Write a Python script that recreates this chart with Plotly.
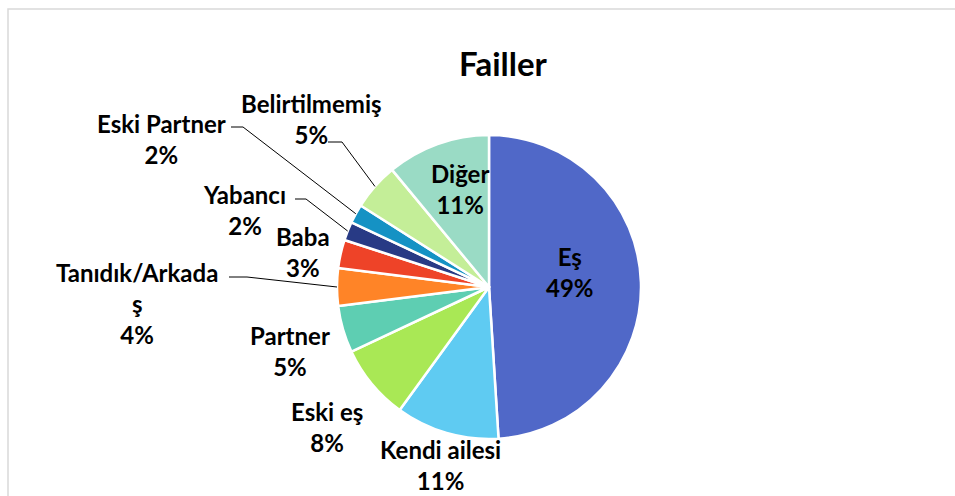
import math

import plotly.graph_objects as go

# data
labels = [
    "Eş",
    "Kendi ailesi",
    "Eski eş",
    "Partner",
    "Tanıdık/Arkadaş",
    "Baba",
    "Yabancı",
    "Eski Partner",
    "Belirtilmemiş",
    "Diğer",
]
values = [49, 11, 8, 5, 4, 3, 2, 2, 5, 11]
colors = [
    "#5068C8",
    "#5FCBF2",
    "#A9E855",
    "#5ECEB2",
    "#FF8427",
    "#EE4328",
    "#283A85",
    "#1592C4",
    "#C4EE98",
    "#9ADBC5",
]
title = "Failler"

# layout (pixels in a 955x496 page)
W, H = 955, 496
CX, CY, R = 489, 287, 152
FONT = "Lato, 'Open Sans', sans-serif"

# label centres, and where a leader line leaves the label
label_pos = {
    "Eş": (570, 272),
    "Kendi ailesi": (440, 465),
    "Eski eş": (327, 427),
    "Partner": (290, 351),
    "Tanıdık/Arkadaş": (137, 303),
    "Baba": (303, 252),
    "Yabancı": (244, 210),
    "Eski Partner": (161, 139),
    "Belirtilmemiş": (311, 119),
    "Diğer": (460, 189),
}
leader_start = {
    "Tanıdık/Arkadaş": [(229, 277), (247, 277)],
    "Yabancı": [(295, 199), (306, 199)],
    "Eski Partner": [(231, 127), (243, 127)],
    "Belirtilmemiş": [(328, 142), (342, 142)],
}
wrapped = {"Tanıdık/Arkadaş": "Tanıdık/Arkada<br>ş"}


def px(x):
    return x / W


def py(y):
    return 1 - y / H


fig = go.Figure(
    go.Pie(
        labels=labels,
        values=values,
        sort=False,
        direction="clockwise",
        rotation=0,
        marker=dict(colors=colors, line=dict(color="white", width=2.5)),
        textinfo="none",
        hoverinfo="label+percent",
        showlegend=False,
        domain=dict(x=[px(CX - R), px(CX + R)], y=[py(CY + R), py(CY - R)]),
    )
)

total = sum(values)
annotations = []
shapes = []
cum = 0
for lab, val in zip(labels, values):
    mid = (cum + val / 2) / total * 2 * math.pi
    cum += val
    pct = round(val / total * 100)
    lx, ly = label_pos[lab]
    annotations.append(
        dict(
            x=px(lx),
            y=py(ly),
            xref="paper",
            yref="paper",
            text=f"<b>{wrapped.get(lab, lab)}<br>{pct}%</b>",
            showarrow=False,
            xanchor="center",
            yanchor="middle",
            align="center",
            font=dict(family=FONT, size=24, color="#000000"),
        )
    )
    if lab in leader_start:
        ax = CX + R * math.sin(mid)
        ay = CY - R * math.cos(mid)
        pts = leader_start[lab] + [(ax, ay)]
        path = "M " + " L ".join(f"{px(x)},{py(y)}" for x, y in pts)
        shapes.append(
            dict(
                type="path",
                xref="paper",
                yref="paper",
                path=path,
                line=dict(color="#000000", width=1),
            )
        )

# chart frame
shapes.append(
    dict(
        type="rect",
        xref="paper",
        yref="paper",
        x0=px(8),
        y0=py(520),
        x1=px(980),
        y1=py(9),
        line=dict(color="#D9D9D9", width=1.5),
    )
)

annotations.append(
    dict(
        x=px(503),
        y=py(63),
        xref="paper",
        yref="paper",
        text=f"<b>{title}</b>",
        showarrow=False,
        xanchor="center",
        yanchor="middle",
        font=dict(family=FONT, size=33, color="#000000"),
    )
)

fig.update_layout(
    width=W,
    height=H,
    margin=dict(l=0, r=0, t=0, b=0),
    paper_bgcolor="white",
    plot_bgcolor="white",
    font=dict(family=FONT),
    annotations=annotations,
    shapes=shapes,
)

fig.write_html(
    "out.html",
    config={"displayModeBar": False},
    post_script="document.body.style.margin='0';document.body.style.overflow='hidden';",
)
